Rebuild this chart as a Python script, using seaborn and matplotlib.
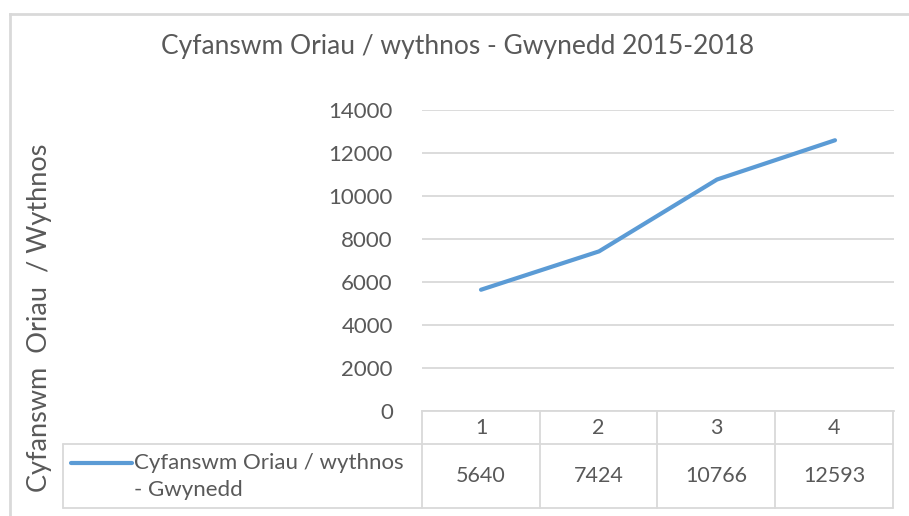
import matplotlib.pyplot as plt
import seaborn as sns
import pandas as pd

# data
periods = [1, 2, 3, 4]
hours = [5640, 7424, 10766, 12593]
series_name = 'Cyfanswm Oriau / wythnos - Gwynedd'
y_ticks = [0, 2000, 4000, 6000, 8000, 10000, 12000, 14000]

df = pd.DataFrame({'period': periods, 'hours': hours})

sns.set_style('white')
plt.rcParams['font.family'] = ['Lato', 'DejaVu Sans']

W, H = 909, 516
text_col = '#595959'
grid_col = '#d9d9d9'
blue = '#5b9bd5'

fig = plt.figure(figsize=(W / 100, H / 100), dpi=100)

def box(x0, y0, x1, y1):
    # pixel box (top-left origin) -> figure fractions
    return [x0 / W, 1 - y1 / H, (x1 - x0) / W, (y1 - y0) / H]

# chart border
border = fig.add_axes(box(10, 14, 909, 516))
border.set_xticks([])
border.set_yticks([])
for s in ['right', 'bottom']:
    border.spines[s].set_visible(False)
for s in ['left', 'top']:
    border.spines[s].set_color(grid_col)
    border.spines[s].set_linewidth(2)

# main plot
ax = fig.add_axes(box(422, 110, 894, 411))
sns.lineplot(data=df, x='period', y='hours', color=blue, linewidth=3, ax=ax,
             solid_capstyle='round')
ax.set_xlim(0.5, 4.5)
ax.set_ylim(0, 14000)
ax.set_yticks(y_ticks)
ax.set_yticklabels([str(t) for t in y_ticks], fontsize=16, color=text_col)
ax.tick_params(axis='y', length=0, pad=21)
ax.set_xticks([])
ax.set_xlabel('')
ax.set_ylabel('')
ax.grid(axis='y', color=grid_col, linewidth=1.3)
for s in ['top', 'right', 'left']:
    ax.spines[s].set_visible(False)
ax.spines['bottom'].set_color(grid_col)
ax.spines['bottom'].set_linewidth(1.3)

fig.text(0.503, 1 - 47 / H, 'Cyfanswm Oriau / wythnos - Gwynedd 2015-2018',
         ha='center', va='center', fontsize=19, color=text_col)
fig.text(40 / W, 1 - 318 / H, 'Cyfanswm  Oriau  / Wythnos', rotation=90,
         ha='center', va='center', fontsize=19.5, color=text_col)

# data table under the axis
tab = fig.add_axes(box(0, 0, W, H), facecolor='none')
tab.set_xlim(0, W)
tab.set_ylim(H, 0)
tab.axis('off')
col_edges = [422, 540, 657, 775, 893]
top, mid, bot, left = 411, 444, 508, 63
for x in col_edges:
    tab.plot([x, x], [top, bot], color=grid_col, lw=1.3)
tab.plot([left, left], [mid, bot], color=grid_col, lw=1.3)
tab.plot([left, col_edges[-1]], [mid, mid], color=grid_col, lw=1.3)
tab.plot([left, col_edges[-1]], [bot, bot], color=grid_col, lw=1.3)
for i, (p, v) in enumerate(zip(periods, hours)):
    cx = (col_edges[i] + col_edges[i + 1]) / 2
    tab.text(cx, (top + mid) / 2, str(p), ha='center', va='center',
             fontsize=15.5, color=text_col)
    tab.text(cx, (mid + bot) / 2, str(v), ha='center', va='center',
             fontsize=15.5, color=text_col)
tab.plot([71, 132], [463, 463], color=blue, lw=3, solid_capstyle='round')
name1, name2 = series_name.rsplit(' - ', 1)
tab.text(134, 463, name1, ha='left', va='center', fontsize=16, color=text_col)
tab.text(134, 490, '- ' + name2, ha='left', va='center', fontsize=16, color=text_col)

fig.savefig('out.png', dpi=100)
